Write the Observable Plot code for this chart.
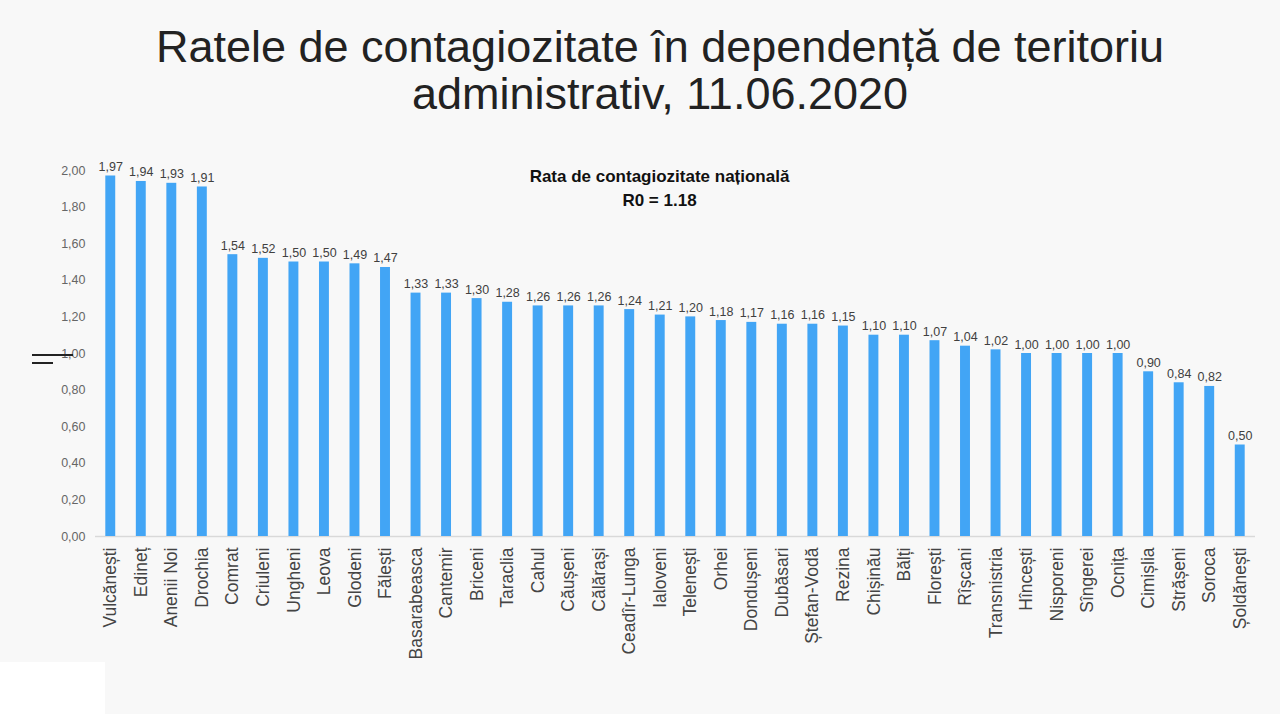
<!DOCTYPE html>
<html>
<head>
<meta charset="utf-8">
<script src="https://cdn.jsdelivr.net/npm/d3@7"></script>
<script src="https://cdn.jsdelivr.net/npm/@observablehq/plot@0.6"></script>
<style>
  html, body { margin: 0; padding: 0; background: #f8f8f8; }
  body { width: 1280px; height: 714px; position: relative; overflow: hidden; font-family: "Liberation Sans", Arial, sans-serif; }
  #title { box-sizing: border-box; width: 1280px; height: 140px; padding: 23px 0 0 40px; text-align: center; font-size: 45px; line-height: 47px; color: #222; }
  #chart svg { display: block; }
  .mark1 { position: absolute; left: 32px; top: 354px; width: 41px; height: 2px; background: #222; }
  .mark2 { position: absolute; left: 32px; top: 362px; width: 21px; height: 2px; background: #222; }
  .patch { position: absolute; left: 0; top: 662px; width: 105px; height: 52px; background: #fff; }
</style>
</head>
<body>
<div id="title">Ratele de contagiozitate în dependență de teritoriu<br>administrativ, 11.06.2020</div>
<div id="chart"></div>
<div class="mark1"></div><div class="mark2"></div><div class="patch"></div>
<script>
const regions = ["Vulcănești","Edineț","Anenii Noi","Drochia","Comrat","Criuleni","Ungheni","Leova","Glodeni","Fălești","Basarabeasca","Cantemir","Briceni","Taraclia","Cahul","Căușeni","Călărași","Ceadîr-Lunga","Ialoveni","Telenești","Orhei","Dondușeni","Dubăsari","Ștefan-Vodă","Rezina","Chișinău","Bălți","Florești","Rîșcani","Transnistria","Hîncești","Nisporeni","Sîngerei","Ocnița","Cimișlia","Strășeni","Soroca","Șoldănești"];
const values = [1.97,1.94,1.93,1.91,1.54,1.52,1.50,1.50,1.49,1.47,1.33,1.33,1.30,1.28,1.26,1.26,1.26,1.24,1.21,1.20,1.18,1.17,1.16,1.16,1.15,1.10,1.10,1.07,1.04,1.02,1.00,1.00,1.00,1.00,0.90,0.84,0.82,0.50];
const yTicks = [0,0.2,0.4,0.6,0.8,1.0,1.2,1.4,1.6,1.8,2.0];
const annotation = ["Rata de contagiozitate națională\nR0 = 1.18"];

const data = regions.map((r, i) => ({region: r, value: values[i]}));
const fmt = v => d3.format(".2f")(v).replace(".", ",");

const chart = Plot.plot({
  width: 1280,
  height: 574,
  marginLeft: 95,
  marginRight: 25,
  marginTop: 30,
  marginBottom: 178,
  style: {background: "transparent", fontFamily: "'Liberation Sans', Arial, sans-serif"},
  x: {domain: regions, padding: 0, round: false, label: null},
  y: {domain: [0, 2], label: null},
  marks: [
    Plot.axisY({ticks: yTicks, tickFormat: fmt, tickSize: 0, tickPadding: 10, fontSize: 12.5, fill: "#666", label: null}),
    Plot.axisX({tickSize: 0, tickPadding: 11, tickRotate: -90, fontSize: 17.5, fill: "#444", label: null}),
    Plot.ruleY([0], {stroke: "#d9d9d9", strokeWidth: 1.5}),
    Plot.barY(data, {x: "region", y: "value", fill: "#42a5f5", insetLeft: 10.3, insetRight: 10.3}),
    Plot.text(data, {x: "region", y: "value", text: d => fmt(d.value), dy: -9, fontSize: 12.5, fill: "#404040"}),
    Plot.text(annotation, {frameAnchor: "top", dx: -16, dy: -5, lineAnchor: "top", fontWeight: "bold", fontSize: 17, lineHeight: 1.4, fill: "#111"})
  ]
});
document.getElementById("chart").appendChild(chart);
</script>
</body>
</html>
